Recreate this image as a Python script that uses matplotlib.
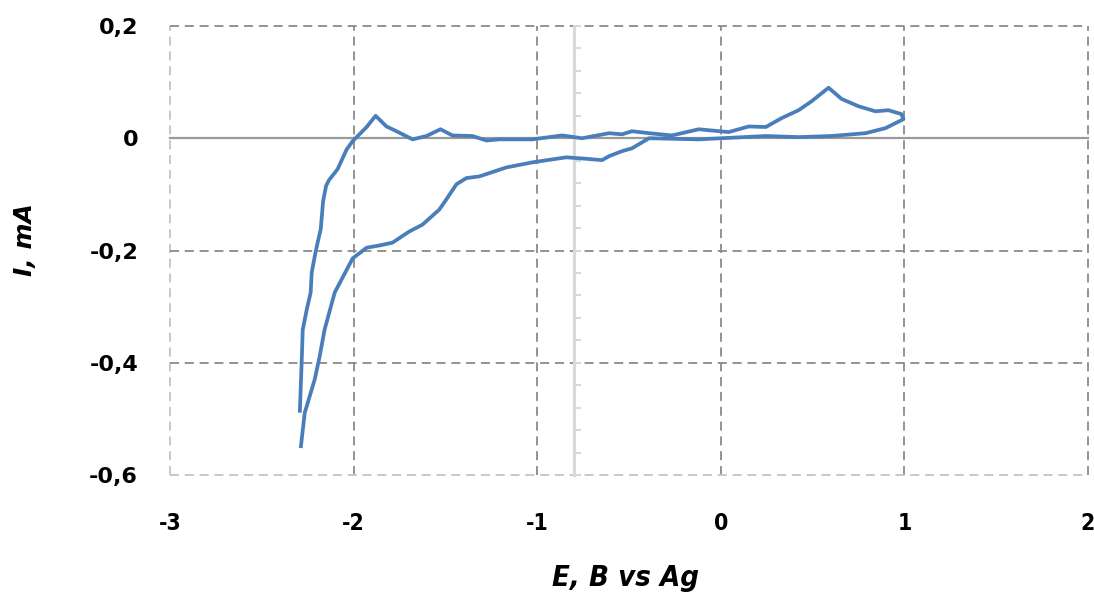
import matplotlib
matplotlib.use("Agg")
import matplotlib.pyplot as plt
from matplotlib import font_manager
import numpy as np

# Cyclic voltammogram: potential (V vs Ag) and current (mA)
potential = [
    -2.293, -2.283, -2.277, -2.255, -2.234, -2.228, -2.212, -2.196, -2.179,
    -2.166, -2.150, -2.135, -2.087, -2.038, -2.005, -1.929, -1.880, -1.821,
    -1.766, -1.679, -1.603, -1.527, -1.462, -1.353, -1.277, -1.207, -1.027,
    -0.864, -0.755, -0.609, -0.538, -0.484, -0.391, -0.266, -0.120, 0.043,
    0.152, 0.245, 0.332, 0.424, 0.495, 0.587, 0.658, 0.750, 0.842, 0.913,
    0.984, 0.995, 0.897, 0.788, 0.603, 0.424, 0.245, -0.120, -0.391, -0.484,
    -0.538, -0.609, -0.647, -0.755, -0.842, -1.027, -1.168, -1.315, -1.386,
    -1.440, -1.495, -1.533, -1.625, -1.696, -1.788, -1.859, -1.929, -2.005,
    -2.103, -2.158, -2.185, -2.212, -2.266, -2.288,
]
current = [
    -0.489, -0.400, -0.341, -0.305, -0.275, -0.239, -0.211, -0.186, -0.162,
    -0.112, -0.085, -0.075, -0.055, -0.020, -0.005, 0.020, 0.040, 0.021,
    0.0125, -0.002, 0.004, 0.016, 0.005, 0.004, -0.004, -0.002, -0.002,
    0.005, 0.000, 0.009, 0.007, 0.0125, 0.009, 0.005, 0.016, 0.011,
    0.021, 0.020, 0.036, 0.050, 0.066, 0.090, 0.070, 0.057, 0.048, 0.050,
    0.043, 0.034, 0.018, 0.009, 0.004, 0.002, 0.004, -0.002, 0.000, -0.018,
    -0.023, -0.032, -0.039, -0.036, -0.034, -0.043, -0.052, -0.068, -0.071,
    -0.082, -0.109, -0.127, -0.154, -0.166, -0.186, -0.191, -0.195, -0.214,
    -0.275, -0.341, -0.389, -0.430, -0.489, -0.552,
]

x_ticks = [-3, -2, -1, 0, 1, 2]
x_tick_labels = ["-3", "-2", "-1", "0", "1", "2"]
y_ticks = [-0.6, -0.4, -0.2, 0, 0.2]
y_tick_labels = ["-0,6", "-0,4", "-0,2", "0", "0,2"]

installed = {f.name for f in font_manager.fontManager.ttflist}
if "Liberation Sans Narrow" in installed:
    narrow = dict(family="Liberation Sans Narrow", stretch="normal")
else:
    narrow = dict(family="DejaVu Sans", stretch="condensed")

fig = plt.figure(figsize=(10.94, 6.01), dpi=100)
ax = fig.add_axes([170 / 1094, 1 - 475 / 601, 918 / 1094, 449 / 601])
ax.set_xlim(-3, 2)
ax.set_ylim(-0.6, 0.2)

for s in ax.spines.values():
    s.set_visible(False)

grid_dash = (0, (5.0, 3.2))
for xv in x_ticks:
    c = "#c4c4c4" if xv == x_ticks[0] else "#8a8a8a"
    ax.axvline(xv, color=c, lw=1.3, linestyle=grid_dash, zorder=1, clip_on=False)
for yv in y_ticks:
    if yv == 0:
        continue
    c = "#c4c4c4" if yv == y_ticks[0] else "#8a8a8a"
    ax.axhline(yv, color=c, lw=1.3, linestyle=grid_dash, zorder=1, clip_on=False)

# horizontal axis through zero
ax.axhline(0, color="#9a9a9a", lw=1.6, zorder=2, clip_on=False)

ax.set_xticks(x_ticks)
ax.set_xticklabels(x_tick_labels)
ax.set_yticks(y_ticks)
ax.set_yticklabels(y_tick_labels)
ax.tick_params(axis="both", length=0)
ax.tick_params(axis="x", pad=27)
ax.tick_params(axis="y", pad=23)
for lab in ax.get_xticklabels():
    lab.set_fontfamily(narrow["family"])
    lab.set_fontstretch(narrow["stretch"])
    lab.set_fontweight("bold")
    lab.set_fontsize(16.5)
for lab in ax.get_yticklabels():
    lab.set_fontfamily("DejaVu Sans")
    lab.set_fontweight("bold")
    lab.set_fontsize(16)

# vertical axis crossing at E = -0.8 with inner minor ticks
sec = ax.secondary_yaxis((-0.8 - (-3)) / 5)
sec.spines["left"].set_color("#d9d9d9")
sec.spines["left"].set_linewidth(2.2)
sec.set_yticks(np.round(np.arange(-0.6, 0.2001, 0.04), 2))
sec.tick_params(axis="y", direction="in", length=5, width=1.5,
                color="#d9d9d9", labelleft=False)
sec.set_zorder(1.5)

ax.plot(potential, current, color="#4a7ebb", lw=2.7, zorder=3,
        solid_joinstyle="round", solid_capstyle="butt")

fig.text(626 / 1094, 1 - 578 / 601, "E, B vs Ag", ha="center", va="center",
         fontsize=21, fontweight="bold", fontstyle="italic",
         family=narrow["family"], stretch=narrow["stretch"])
fig.text(25 / 1094, 1 - 240 / 601, "I, mA", ha="center", va="center",
         rotation=90, fontsize=18, fontweight="bold", fontstyle="italic",
         family="DejaVu Sans")

fig.savefig("out.png", dpi=100)
